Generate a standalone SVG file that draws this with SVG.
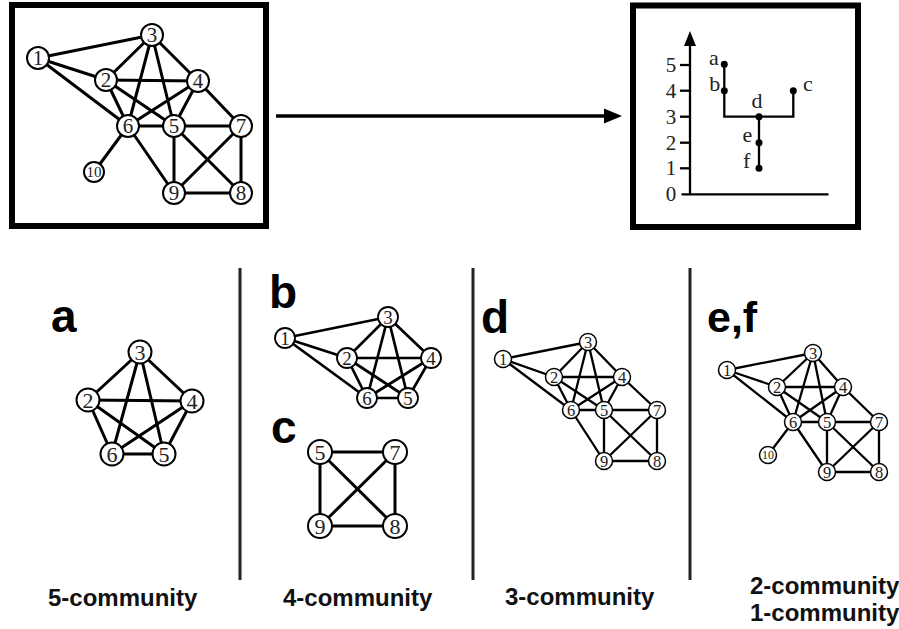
<svg xmlns="http://www.w3.org/2000/svg" width="899" height="629" viewBox="0 0 899 629">
<style>
.bg{fill:#fff}
.frame{fill:none;stroke:#000;stroke-width:6}
.e line{stroke:#000;stroke-linecap:round}
.n circle{fill:#fff;stroke:#000}
.n text{font-family:"Liberation Serif","DejaVu Serif",serif;text-anchor:middle;fill:#222}
.tl .n circle,.ga .n circle,.gc .n circle{stroke-width:2}
.tl.e line,.ga.e line,.gc.e line{stroke-width:3}
.gb.e line{stroke-width:2.7}
.gd.e line,.gef.e line{stroke-width:2.3}
.gb .n circle{stroke-width:1.8}
.gd .n circle,.gef .n circle{stroke-width:1.5}
.f19 text{font-size:21px}
.f20 text{font-size:22px}
.f17 text{font-size:19px}
.f15 text{font-size:16.5px}
.big{font-family:"Liberation Sans",Arial,sans-serif;font-weight:bold;fill:#000}
.lab{font-family:"Liberation Sans",Arial,sans-serif;font-weight:bold;font-size:24px;fill:#111}
.ax{font-family:"Liberation Serif","DejaVu Serif",serif;font-size:21px;fill:#222}
.dl{stroke:#000;stroke-width:2.3;fill:none}
.div{stroke:#222;stroke-width:3}
</style>
<rect class="bg" width="899" height="629"/>

<!-- frames -->
<rect class="frame" x="12" y="5" width="254" height="221"/>
<rect class="frame" x="633" y="5.5" width="225" height="221.5"/>

<!-- big arrow -->
<g id="main-arrow">
<line x1="276" y1="116" x2="606" y2="116" stroke="#000" stroke-width="3.5"/>
<polygon points="604,108.5 622,116 604,123.5" fill="#000"/>
</g>

<!-- top-left graph connectors -->
<g id="tl-edges" class="e tl">
<line x1="38" y1="58" x2="152" y2="35"/>
<line x1="38" y1="58" x2="106" y2="80"/>
<line x1="38" y1="58" x2="128" y2="126"/>
<line x1="106" y1="80" x2="152" y2="35"/>
<line x1="152" y1="35" x2="128" y2="126"/>
<line x1="152" y1="35" x2="174" y2="126"/>
<line x1="152" y1="35" x2="198" y2="81"/>
<line x1="106" y1="80" x2="198" y2="81"/>
<line x1="106" y1="80" x2="128" y2="126"/>
<line x1="106" y1="80" x2="174" y2="126"/>
<line x1="198" y1="81" x2="128" y2="126"/>
<line x1="198" y1="81" x2="174" y2="126"/>
<line x1="198" y1="81" x2="241" y2="126"/>
<line x1="174" y1="126" x2="128" y2="126"/>
<line x1="128" y1="126" x2="94" y2="172"/>
<line x1="128" y1="126" x2="174" y2="193"/>
<line x1="174" y1="126" x2="241" y2="126"/>
<line x1="174" y1="126" x2="174" y2="193"/>
<line x1="174" y1="126" x2="241" y2="193"/>
<line x1="241" y1="126" x2="174" y2="193"/>
<line x1="241" y1="126" x2="241" y2="193"/>
<line x1="241" y1="193" x2="174" y2="193"/>
</g>
<g class="tl f19">
<g id="tl-1" class="n" transform="translate(38,58)"><circle r="11"/><text y="7">1</text></g>
<g id="tl-2" class="n" transform="translate(106,80)"><circle r="11"/><text y="7">2</text></g>
<g id="tl-3" class="n" transform="translate(152,35)"><circle r="11"/><text y="7">3</text></g>
<g id="tl-4" class="n" transform="translate(198,81)"><circle r="11"/><text y="7">4</text></g>
<g id="tl-5" class="n" transform="translate(174,126)"><circle r="11"/><text y="7">5</text></g>
<g id="tl-6" class="n" transform="translate(128,126)"><circle r="11"/><text y="7">6</text></g>
<g id="tl-7" class="n" transform="translate(241,126)"><circle r="11"/><text y="7">7</text></g>
<g id="tl-8" class="n" transform="translate(241,193)"><circle r="11"/><text y="7">8</text></g>
<g id="tl-9" class="n" transform="translate(174,193)"><circle r="11"/><text y="7">9</text></g>
<g id="tl-10" class="n" transform="translate(94,172)"><circle r="10"/><text y="5" style="font-size:15px">10</text></g>
</g>

<!-- dendrogram -->
<g id="dendrogram">
<line x1="690" y1="194.3" x2="690" y2="44" class="dl"/>
<polygon points="690,31 684,46 696,46" fill="#000"/>
<line x1="681.5" y1="194.3" x2="828.5" y2="194.3" class="dl"/>
<g class="dl">
<line x1="680" y1="65" x2="690" y2="65"/>
<line x1="680" y1="90.7" x2="690" y2="90.7"/>
<line x1="680" y1="116.7" x2="690" y2="116.7"/>
<line x1="680" y1="142.7" x2="690" y2="142.7"/>
<line x1="680" y1="168.3" x2="690" y2="168.3"/>
</g>
<g class="ax" text-anchor="middle">
<text x="671" y="72">5</text>
<text x="671" y="97.7">4</text>
<text x="671" y="123.7">3</text>
<text x="671" y="149.7">2</text>
<text x="671" y="175.3">1</text>
<text x="671" y="201.3">0</text>
</g>
<polyline class="dl" points="724.3,64.3 724.3,116.7 793.3,116.7 793.3,90.7"/>
<line class="dl" x1="759" y1="116.7" x2="759" y2="168.3"/>
<g fill="#000">
<circle cx="724.3" cy="64.3" r="3.5"/>
<circle cx="724.3" cy="90.7" r="3.5"/>
<circle cx="793.3" cy="90.7" r="3.5"/>
<circle cx="759" cy="116.7" r="3.5"/>
<circle cx="759" cy="142.7" r="3.5"/>
<circle cx="759" cy="168.3" r="3.5"/>
</g>
<g class="ax" text-anchor="middle" style="font-size:22px">
<text x="714" y="65">a</text>
<text x="714.7" y="90.7">b</text>
<text x="808" y="90.7">c</text>
<text x="757" y="108.3">d</text>
<text x="747.5" y="141.7">e</text>
<text x="746.7" y="168.3">f</text>
</g>
</g>

<!-- dividers -->
<g id="dividers" class="div">
<line x1="240" y1="268" x2="240" y2="580"/>
<line x1="473" y1="268" x2="473" y2="580"/>
<line x1="690" y1="268" x2="690" y2="580"/>
</g>

<!-- panel letters -->
<text class="big" x="51" y="332" font-size="46">a</text>
<text class="big" x="269" y="308" font-size="46">b</text>
<text class="big" x="271" y="443" font-size="46">c</text>
<text class="big" x="481" y="333" font-size="46">d</text>
<text class="big" x="707" y="332" font-size="43">e,f</text>

<!-- graph a -->
<g id="a-edges" class="e ga">
<line x1="140" y1="352" x2="88" y2="400"/>
<line x1="140" y1="352" x2="192" y2="401"/>
<line x1="140" y1="352" x2="112" y2="454"/>
<line x1="140" y1="352" x2="164" y2="454"/>
<line x1="88" y1="400" x2="192" y2="401"/>
<line x1="88" y1="400" x2="112" y2="454"/>
<line x1="88" y1="400" x2="164" y2="454"/>
<line x1="192" y1="401" x2="112" y2="454"/>
<line x1="192" y1="401" x2="164" y2="454"/>
<line x1="112" y1="454" x2="164" y2="454"/>
</g>
<g class="ga f20">
<g id="a-3" class="n" transform="translate(140,352)"><circle r="11.5"/><text y="7.5">3</text></g>
<g id="a-2" class="n" transform="translate(88,400)"><circle r="11.5"/><text y="7.5">2</text></g>
<g id="a-4" class="n" transform="translate(192,401)"><circle r="11.5"/><text y="7.5">4</text></g>
<g id="a-6" class="n" transform="translate(112,454)"><circle r="11.5"/><text y="7.5">6</text></g>
<g id="a-5" class="n" transform="translate(164,454)"><circle r="11.5"/><text y="7.5">5</text></g>
</g>

<!-- graph b -->
<g id="b-edges" class="e gb">
<line x1="285" y1="338" x2="388" y2="317"/>
<line x1="285" y1="338" x2="347" y2="358"/>
<line x1="285" y1="338" x2="367" y2="398"/>
<line x1="388" y1="317" x2="347" y2="358"/>
<line x1="388" y1="317" x2="431" y2="358"/>
<line x1="388" y1="317" x2="367" y2="398"/>
<line x1="388" y1="317" x2="408" y2="398"/>
<line x1="347" y1="358" x2="431" y2="358"/>
<line x1="347" y1="358" x2="367" y2="398"/>
<line x1="347" y1="358" x2="408" y2="398"/>
<line x1="431" y1="358" x2="367" y2="398"/>
<line x1="431" y1="358" x2="408" y2="398"/>
<line x1="367" y1="398" x2="408" y2="398"/>
</g>
<g class="gb f17">
<g id="b-1" class="n" transform="translate(285,338)"><circle r="10"/><text y="6.5">1</text></g>
<g id="b-3" class="n" transform="translate(388,317)"><circle r="10"/><text y="6.5">3</text></g>
<g id="b-2" class="n" transform="translate(347,358)"><circle r="10"/><text y="6.5">2</text></g>
<g id="b-4" class="n" transform="translate(431,358)"><circle r="10"/><text y="6.5">4</text></g>
<g id="b-6" class="n" transform="translate(367,398)"><circle r="10"/><text y="6.5">6</text></g>
<g id="b-5" class="n" transform="translate(408,398)"><circle r="10"/><text y="6.5">5</text></g>
</g>

<!-- graph c -->
<g id="c-edges" class="e gc">
<line x1="320" y1="452" x2="395" y2="452"/>
<line x1="320" y1="452" x2="320" y2="526"/>
<line x1="320" y1="452" x2="395" y2="526"/>
<line x1="395" y1="452" x2="320" y2="526"/>
<line x1="395" y1="452" x2="395" y2="526"/>
<line x1="320" y1="526" x2="395" y2="526"/>
</g>
<g class="gc f20">
<g id="c-5" class="n" transform="translate(320,452)"><circle r="12"/><text y="7.5">5</text></g>
<g id="c-7" class="n" transform="translate(395,452)"><circle r="12"/><text y="7.5">7</text></g>
<g id="c-9" class="n" transform="translate(320,526)"><circle r="12"/><text y="7.5">9</text></g>
<g id="c-8" class="n" transform="translate(395,526)"><circle r="12"/><text y="7.5">8</text></g>
</g>

<!-- graph d -->
<g id="d-edges" class="e gd">
<line x1="503" y1="359" x2="588" y2="342"/>
<line x1="503" y1="359" x2="554" y2="377"/>
<line x1="503" y1="359" x2="571" y2="410"/>
<line x1="554" y1="377" x2="588" y2="342"/>
<line x1="588" y1="342" x2="571" y2="410"/>
<line x1="588" y1="342" x2="604" y2="410"/>
<line x1="588" y1="342" x2="622" y2="377"/>
<line x1="554" y1="377" x2="622" y2="377"/>
<line x1="554" y1="377" x2="571" y2="410"/>
<line x1="554" y1="377" x2="604" y2="410"/>
<line x1="622" y1="377" x2="571" y2="410"/>
<line x1="622" y1="377" x2="604" y2="410"/>
<line x1="622" y1="377" x2="657" y2="410"/>
<line x1="604" y1="410" x2="571" y2="410"/>
<line x1="571" y1="410" x2="604" y2="461"/>
<line x1="604" y1="410" x2="657" y2="410"/>
<line x1="604" y1="410" x2="604" y2="461"/>
<line x1="604" y1="410" x2="657" y2="461"/>
<line x1="657" y1="410" x2="604" y2="461"/>
<line x1="657" y1="410" x2="657" y2="461"/>
<line x1="657" y1="461" x2="604" y2="461"/>
</g>
<g class="gd f15">
<g id="d-1" class="n" transform="translate(503,359)"><circle r="8.5"/><text y="5.5">1</text></g>
<g id="d-3" class="n" transform="translate(588,342)"><circle r="8.5"/><text y="5.5">3</text></g>
<g id="d-2" class="n" transform="translate(554,377)"><circle r="8.5"/><text y="5.5">2</text></g>
<g id="d-4" class="n" transform="translate(622,377)"><circle r="8.5"/><text y="5.5">4</text></g>
<g id="d-6" class="n" transform="translate(571,410)"><circle r="8.5"/><text y="5.5">6</text></g>
<g id="d-5" class="n" transform="translate(604,410)"><circle r="8.5"/><text y="5.5">5</text></g>
<g id="d-7" class="n" transform="translate(657,410)"><circle r="8.5"/><text y="5.5">7</text></g>
<g id="d-9" class="n" transform="translate(604,461)"><circle r="8.5"/><text y="5.5">9</text></g>
<g id="d-8" class="n" transform="translate(657,461)"><circle r="8.5"/><text y="5.5">8</text></g>
</g>

<!-- graph e,f -->
<g id="ef-edges" class="e gef">
<line x1="727" y1="370" x2="813" y2="353"/>
<line x1="727" y1="370" x2="777" y2="387"/>
<line x1="727" y1="370" x2="793" y2="422"/>
<line x1="777" y1="387" x2="813" y2="353"/>
<line x1="813" y1="353" x2="793" y2="422"/>
<line x1="813" y1="353" x2="827" y2="422"/>
<line x1="813" y1="353" x2="843" y2="387"/>
<line x1="777" y1="387" x2="843" y2="387"/>
<line x1="777" y1="387" x2="793" y2="422"/>
<line x1="777" y1="387" x2="827" y2="422"/>
<line x1="843" y1="387" x2="793" y2="422"/>
<line x1="843" y1="387" x2="827" y2="422"/>
<line x1="843" y1="387" x2="879" y2="422"/>
<line x1="827" y1="422" x2="793" y2="422"/>
<line x1="793" y1="422" x2="768" y2="455"/>
<line x1="793" y1="422" x2="827" y2="472"/>
<line x1="827" y1="422" x2="879" y2="422"/>
<line x1="827" y1="422" x2="827" y2="472"/>
<line x1="827" y1="422" x2="879" y2="472"/>
<line x1="879" y1="422" x2="827" y2="472"/>
<line x1="879" y1="422" x2="879" y2="472"/>
<line x1="879" y1="472" x2="827" y2="472"/>
</g>
<g class="gef f15">
<g id="ef-1" class="n" transform="translate(727,370)"><circle r="8.5"/><text y="5.5">1</text></g>
<g id="ef-3" class="n" transform="translate(813,353)"><circle r="8.5"/><text y="5.5">3</text></g>
<g id="ef-2" class="n" transform="translate(777,387)"><circle r="8.5"/><text y="5.5">2</text></g>
<g id="ef-4" class="n" transform="translate(843,387)"><circle r="8.5"/><text y="5.5">4</text></g>
<g id="ef-6" class="n" transform="translate(793,422)"><circle r="8.5"/><text y="5.5">6</text></g>
<g id="ef-5" class="n" transform="translate(827,422)"><circle r="8.5"/><text y="5.5">5</text></g>
<g id="ef-7" class="n" transform="translate(879,422)"><circle r="8.5"/><text y="5.5">7</text></g>
<g id="ef-10" class="n" transform="translate(768,455)"><circle r="8.5"/><text y="4" style="font-size:12px">10</text></g>
<g id="ef-9" class="n" transform="translate(827,472)"><circle r="8.5"/><text y="5.5">9</text></g>
<g id="ef-8" class="n" transform="translate(879,472)"><circle r="8.5"/><text y="5.5">8</text></g>
</g>

<!-- bottom labels -->
<text class="lab" x="48" y="606">5-community</text>
<text class="lab" x="283" y="606">4-community</text>
<text class="lab" x="505" y="605">3-community</text>
<text class="lab" x="750" y="594">2-community</text>
<text class="lab" x="750" y="621">1-community</text>
</svg>
